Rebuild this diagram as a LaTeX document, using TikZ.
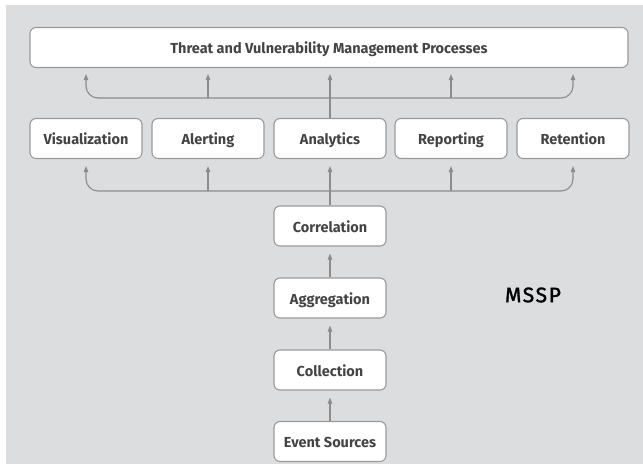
\documentclass[tikz,border=0pt]{standalone}
\usepackage{fontspec}
\setsansfont{Fira Sans}
\usetikzlibrary{arrows.meta}
\definecolor{panel}{HTML}{DCDDDF}
\definecolor{boxline}{HTML}{9A9A9A}
\definecolor{boxtext}{HTML}{444444}
\definecolor{flowgray}{HTML}{8C8C8C}
\tikzset{
	stage/.style={draw=boxline, fill=white, line width=1.1pt, rounded corners=6pt,
		minimum width=112pt, minimum height=40pt, inner sep=0pt, text=boxtext,
		text height=12pt, text depth=0pt,
		font=\sffamily\bfseries\fontsize{14.5}{16}\selectfont},
	flow/.style={draw=flowgray, line width=1.1pt, -{Triangle[width=4.5pt,length=6pt]}},
}

\begin{document}
\begin{tikzpicture}[x=1pt, y=-1pt]
			%%%%% START %%%%%
			
			\useasboundingbox (0, 0) rectangle (643, 464);
			\fill[panel] (6, 5) rectangle (643, 464);
			
			\node[stage, minimum width=598pt] (tvm) at (329, 47.5) {Threat and Vulnerability Management Processes};
			
			\node[stage] (vis) at (86, 138.5) {Visualization};
			\node[stage] (alert) at (208, 138.5) {Alerting};
			\node[stage] (ana) at (330, 138.5) {Analytics};
			\node[stage] (rep) at (451, 138.5) {Reporting};
			\node[stage] (ret) at (573, 138.5) {Retention};
			
			\node[stage] (corr) at (330, 226) {Correlation};
			\node[stage] (aggr) at (330, 298) {Aggregation};
			\node[stage] (coll) at (330, 370) {Collection};
			\node[stage] (evt) at (330, 441.5) {Event Sources};
			
			\node[font=\sffamily\fontsize{21}{23}\selectfont\addfontfeature{LetterSpace=8,FakeBold=1.5}] (mssp) at (533, 295) {MSSP};
			
			\coordinate (topbus) at (330, 98);
			\coordinate (lowbus) at (330, 191);
			
			\draw[flow] (ana.north) -- ([yshift=-6pt]tvm.south -| ana.north);
			\draw[flow, rounded corners=12pt] (topbus) -- (topbus -| vis.north) -- ([yshift=-6pt]tvm.south -| vis.north);
			\draw[flow, rounded corners=12pt] (topbus) -- (topbus -| ret.north) -- ([yshift=-6pt]tvm.south -| ret.north);
			\draw[flow] (topbus -| alert.north) -- ([yshift=-6pt]tvm.south -| alert.north);
			\draw[flow] (topbus -| rep.north) -- ([yshift=-6pt]tvm.south -| rep.north);
			
			\draw[flow] (corr.north) -- ([yshift=-7pt]ana.south);
			\draw[flow, rounded corners=12pt] (lowbus) -- (lowbus -| vis.south) -- ([yshift=-7pt]vis.south);
			\draw[flow, rounded corners=12pt] (lowbus) -- (lowbus -| ret.south) -- ([yshift=-7pt]ret.south);
			\draw[flow] (lowbus -| alert.south) -- ([yshift=-7pt]alert.south);
			\draw[flow] (lowbus -| rep.south) -- ([yshift=-7pt]rep.south);
			
			\draw[flow] (aggr.north) -- ([yshift=-7pt]corr.south);
			\draw[flow] (coll.north) -- ([yshift=-7pt]aggr.south);
			\draw[flow] (evt.north) -- ([yshift=-7pt]coll.south);
			
			%%%%% END %%%%%
\end{tikzpicture}
\end{document}
